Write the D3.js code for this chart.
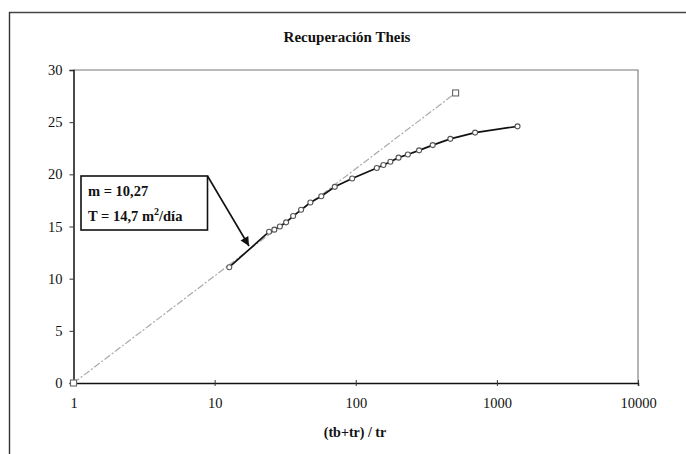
<!DOCTYPE html>
<html>
<head>
<meta charset="utf-8">
<script src="https://cdn.jsdelivr.net/npm/d3@7"></script>
<style>
  html, body { margin: 0; padding: 0; background: #fff; }
  svg { display: block; }
  text { font-family: "Liberation Serif", "Times New Roman", serif; fill: #111; }
</style>
</head>
<body>
<svg id="chart" width="686" height="454"></svg>
<script>
// Recovery test: residual drawdown vs (tb+tr)/tr
const ratio    = [12.7, 24.3, 26.5, 29, 32.1, 36, 41, 47.7, 57, 71, 94.3, 141, 157, 176, 201, 234, 281, 351, 468, 701, 1401];
const drawdown = [11.1, 14.5, 14.7, 15.0, 15.4, 16.0, 16.6, 17.3, 17.9, 18.8, 19.6, 20.6, 20.9, 21.2, 21.6, 21.9, 22.3, 22.8, 23.4, 24.0, 24.6];

// Straight-line fit (Theis recovery)
const fitX = [1, 510];
const fitY = [0, 27.8];

const xTicks = [1, 10, 100, 1000, 10000];
const yTicks = [0, 5, 10, 15, 20, 25, 30];

const titleText = "Recuperación Theis";
const xTitle = "(tb+tr) / tr";
const noteSlope = "m = 10,27";
const noteT = "T = 14,7 m";

const svg = d3.select("#chart");

// outer chart frame
svg.append("line").attr("x1", 9).attr("y1", 12.5).attr("x2", 686).attr("y2", 12.5)
  .attr("stroke", "#444").attr("stroke-width", 1.4);
svg.append("line").attr("x1", 9.5).attr("y1", 12).attr("x2", 9.5).attr("y2", 454)
  .attr("stroke", "#333").attr("stroke-width", 1.4);

const x = d3.scaleLog().domain([1, 10000]).range([73.5, 638]);
const y = d3.scaleLinear().domain([0, 30]).range([383, 70]);

// plot area border (top / right)
svg.append("path")
  .attr("d", `M${x(1)},${y(30)}H${x(10000)}V${y(0)}`)
  .attr("fill", "none").attr("stroke", "#777").attr("stroke-width", 1.1);

// axes
const yAxis = svg.append("g")
  .attr("transform", `translate(${x(1)},0)`)
  .call(d3.axisLeft(y).tickValues(yTicks).tickSize(4).tickPadding(7));
const xAxis = svg.append("g")
  .attr("transform", `translate(0,${y(0)})`)
  .call(d3.axisBottom(x).tickValues(xTicks).tickFormat(d3.format("d")).tickSize(3).tickPadding(12));

[yAxis, xAxis].forEach(g => {
  g.select(".domain").attr("stroke", "#111").attr("stroke-width", 1.5);
  g.selectAll(".tick line").attr("stroke", "#333");
  g.selectAll(".tick text").attr("font-family", "Liberation Serif, serif")
    .attr("font-size", 14.5).attr("fill", "#222");
});
// short ticks above the x axis as well
xAxis.selectAll(".tick").append("line").attr("y2", -3).attr("stroke", "#333");

// title
svg.append("text").attr("x", 347).attr("y", 42).attr("text-anchor", "middle")
  .attr("font-size", 15).attr("font-weight", "bold").text(titleText);

// x axis title
svg.append("text").attr("x", 355).attr("y", 437).attr("text-anchor", "middle")
  .attr("font-size", 14).attr("font-weight", "bold").text(xTitle);

// fitted straight line
const fit = fitX.map((v, i) => [v, fitY[i]]);
svg.append("path")
  .attr("d", d3.line().x(d => x(d[0])).y(d => y(d[1]))(fit))
  .attr("fill", "none").attr("stroke", "#aaa").attr("stroke-width", 1.2)
  .attr("stroke-dasharray", "7,2,2,2");
svg.selectAll("rect.fitpt").data(fit).join("rect").attr("class", "fitpt")
  .attr("x", d => x(d[0]) - 3).attr("y", d => y(d[1]) - 3)
  .attr("width", 6).attr("height", 6)
  .attr("fill", "#fff").attr("stroke", "#666").attr("stroke-width", 1.1);

// measured recovery series
const obs = ratio.map((v, i) => [v, drawdown[i]]);
svg.append("path")
  .attr("d", d3.line().x(d => x(d[0])).y(d => y(d[1]))(obs))
  .attr("fill", "none").attr("stroke", "#111").attr("stroke-width", 1.7);
svg.selectAll("circle.obs").data(obs).join("circle").attr("class", "obs")
  .attr("cx", d => x(d[0])).attr("cy", d => y(d[1])).attr("r", 2.5)
  .attr("fill", "#fff").attr("stroke", "#555").attr("stroke-width", 1.1);

// annotation box with arrow
const box = { x0: 81, y0: 176, x1: 207.5, y1: 230 };
svg.append("rect").attr("x", box.x0).attr("y", box.y0)
  .attr("width", box.x1 - box.x0).attr("height", box.y1 - box.y0)
  .attr("fill", "#fff").attr("stroke", "#111").attr("stroke-width", 1.6);
svg.append("text").attr("x", 88).attr("y", 196).attr("font-size", 14.5)
  .attr("font-weight", "bold").text(noteSlope);
const t2 = svg.append("text").attr("x", 88).attr("y", 221).attr("font-size", 14.5)
  .attr("font-weight", "bold");
t2.append("tspan").text(noteT);
t2.append("tspan").attr("dy", -6).attr("font-size", 10).text("2");
t2.append("tspan").attr("dy", 6).text("/día");

svg.append("defs").append("marker").attr("id", "arrowhead")
  .attr("viewBox", "0 0 10 10").attr("refX", 10).attr("refY", 5)
  .attr("markerWidth", 13).attr("markerHeight", 9).attr("markerUnits", "userSpaceOnUse")
  .attr("orient", "auto")
  .append("path").attr("d", "M0,0L10,5L0,10z").attr("fill", "#111");
svg.append("line").attr("x1", box.x1).attr("y1", box.y0).attr("x2", 249).attr("y2", 246)
  .attr("stroke", "#111").attr("stroke-width", 1.6).attr("marker-end", "url(#arrowhead)");
</script>
</body>
</html>
